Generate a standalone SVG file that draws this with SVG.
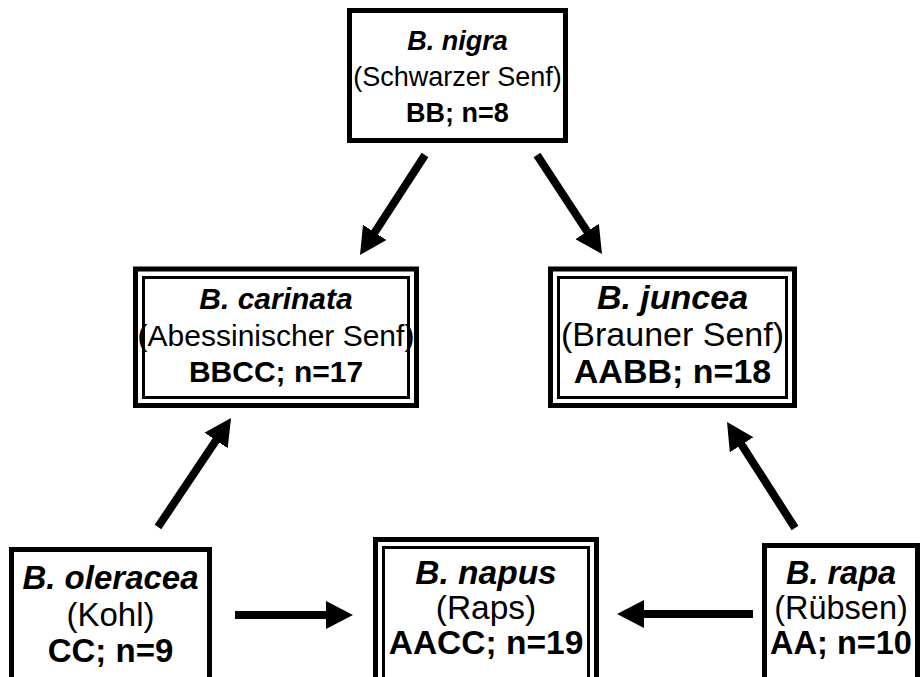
<svg xmlns="http://www.w3.org/2000/svg" width="920" height="677" viewBox="0 0 920 677">
<style>
  .box { fill: #fff; stroke: #000; stroke-width: 5; }
  .inner { fill: none; stroke: #000; stroke-width: 3; }
  text { font-family: "Liberation Sans", Arial, Helvetica, sans-serif; font-size: 30px; fill: #000; text-anchor: middle; }
  .sp { font-weight: bold; font-style: italic; }
  .g { font-weight: bold; }
  .arr { stroke: #000; stroke-width: 8; fill: none; marker-end: url(#ah); }
  #nigra text { font-size: 27px; }
  #carinata text { font-size: 30px; }
  #juncea text { font-size: 34px; }
  #oleracea text { font-size: 33px; }
  #napus text { font-size: 33.5px; }
  #rapa text { font-size: 32.5px; }
</style>
<defs>
  <marker id="ah" markerUnits="userSpaceOnUse" markerWidth="28" markerHeight="28" refX="5" refY="14" orient="auto">
    <path d="M0,0 L27,14 L0,28 Z" fill="#000"/>
  </marker>
</defs>
<rect width="920" height="677" fill="#fff"/>
<g id="connectors">
  <line class="arr" x1="425" y1="155" x2="372" y2="236.6"/>
  <line class="arr" x1="537" y1="155" x2="589.9" y2="235.6"/>
  <line class="arr" x1="158" y1="527" x2="218.8" y2="436.3"/>
  <line class="arr" x1="795" y1="528" x2="738.9" y2="440.5"/>
  <line class="arr" x1="235" y1="615" x2="331" y2="615"/>
  <line class="arr" x1="753" y1="614" x2="639" y2="614"/>
</g>
<g id="nigra">
  <rect class="box" x="349.5" y="10.5" width="216" height="130"/>
  <text class="sp" x="457.5" y="50">B. nigra</text>
  <text x="457.5" y="86">(Schwarzer Senf)</text>
  <text class="g" x="457.5" y="122">BB; n=8</text>
</g>
<g id="carinata">
  <rect class="box" x="135.5" y="269" width="281" height="136.5"/>
  <rect class="inner" x="143.5" y="277.5" width="265" height="120"/>
  <text class="sp" x="276" y="309">B. carinata</text>
  <text x="276" y="346">(Abessinischer Senf)</text>
  <text class="g" x="276" y="382">BBCC; n=17</text>
</g>
<g id="juncea">
  <rect class="box" x="550.5" y="269" width="244" height="136.5"/>
  <rect class="inner" x="558.5" y="277.5" width="228" height="120"/>
  <text class="sp" x="672.5" y="309">B. juncea</text>
  <text x="672.5" y="346">(Brauner Senf)</text>
  <text class="g" x="672.5" y="383">AABB; n=18</text>
</g>
<g id="oleracea">
  <rect class="box" x="11.5" y="549.5" width="198" height="140"/>
  <text class="sp" x="110.5" y="589">B. oleracea</text>
  <text x="110.5" y="626">(Kohl)</text>
  <text class="g" x="110.5" y="662">CC; n=9</text>
</g>
<g id="napus">
  <rect class="box" x="375.5" y="539.5" width="221" height="150"/>
  <rect class="inner" x="383.5" y="547.5" width="205" height="140"/>
  <text class="sp" x="486" y="584">B. napus</text>
  <text x="486" y="619">(Raps)</text>
  <text class="g" x="486" y="654">AACC; n=19</text>
</g>
<g id="rapa">
  <rect class="box" x="764.5" y="545.5" width="153" height="140"/>
  <text class="sp" x="841" y="584">B. rapa</text>
  <text x="841" y="619">(Rübsen)</text>
  <text class="g" x="841" y="654">AA; n=10</text>
</g>
</svg>
